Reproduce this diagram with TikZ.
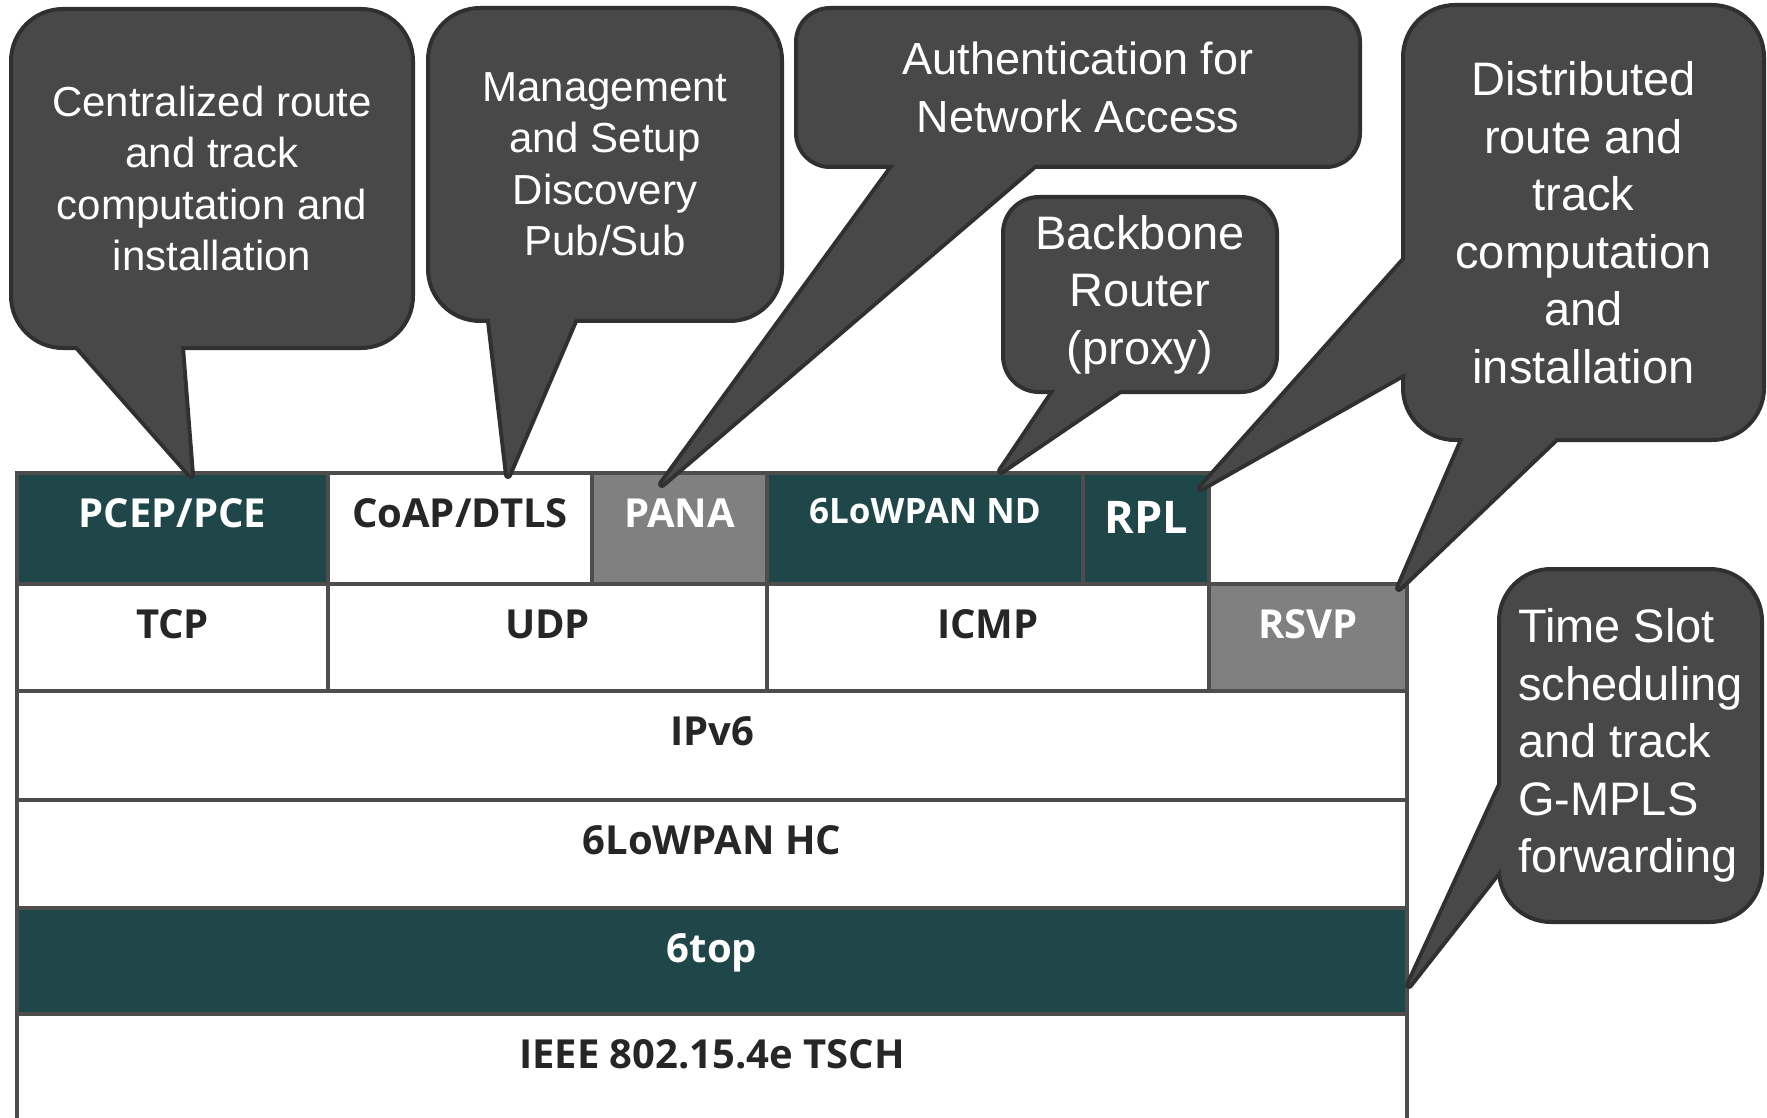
\documentclass[tikz,border=0pt]{standalone}
\usepackage{fontspec}
\newfontfamily\calloutfont{Liberation Sans}
\newfontfamily\stackfont{Open Sans}
\usetikzlibrary{calc}

\definecolor{stackteal}{HTML}{1F4648}
\definecolor{stackgray}{HTML}{808080}
\definecolor{stackedge}{HTML}{4D4D4D}
\definecolor{bubblefill}{HTML}{484848}
\definecolor{bubbleedge}{HTML}{303030}
\definecolor{darktext}{HTML}{262626}

\tikzset{
  stackcell/.style={draw=stackedge, line width=2pt, fill=white, inner sep=0pt, outer sep=0pt,
    anchor=north west, text height=27pt, text depth=27pt, text=darktext,
    font=\stackfont\bfseries\fontsize{20}{24}\selectfont},
  tealcell/.style={stackcell, fill=stackteal, text=white},
  graycell/.style={stackcell, fill=stackgray, text=white},
  bubble/.style={fill=bubblefill, draw=bubbleedge, line width=2pt, inner sep=0pt, outer sep=0pt,
    text=white, align=center, rounded corners=26pt},
  smalltext/.style={font=\calloutfont\fontsize{21}{25.75}\selectfont},
  bigtext/.style={font=\calloutfont\fontsize{23.5}{28.75}\selectfont},
  tipedge/.style={fill=bubblefill, draw=bubbleedge, line width=4pt, line join=round},
  tipfill/.style={fill=bubblefill},
}

\begin{document}
\begin{tikzpicture}[x=0.5pt, y=-0.5pt]
  \useasboundingbox (0,0) rectangle (1767,1118);

  % protocol stack
  \node[tealcell, minimum width=155.5pt, text depth=28.5pt] (pcep) at (17,473) {PCEP/PCE};
  \node[stackcell, minimum width=132pt, text depth=28.5pt] (coap) at (328,473) {CoAP/DTLS};
  \node[tealcell, minimum width=158pt, text height=25pt, text depth=30.5pt,
    font=\stackfont\bfseries\fontsize{17.5}{21}\selectfont] (nd) at (767,473) {6LoWPAN ND};
  \node[tealcell, minimum width=63pt, text height=30pt, text depth=25.5pt,
    font=\stackfont\bfseries\fontsize{22.5}{27}\selectfont] (rpl) at (1083,473) {RPL};
  \node[graycell, minimum width=87.5pt, text depth=28.5pt] (pana) at (592,473) {PANA};

  \node[stackcell, minimum width=155.5pt, text depth=26.5pt] (tcp) at (17,584) {TCP};
  \node[stackcell, minimum width=219.5pt, text depth=26.5pt] (udp) at (328,584) {UDP};
  \node[stackcell, minimum width=221pt, text depth=26.5pt] (icmp) at (767,584) {ICMP};
  \node[graycell, minimum width=99pt, text depth=26.5pt] (rsvp) at (1209,584) {RSVP};

  \node[stackcell, minimum width=695pt, text depth=27.5pt] (ipv6) at (17,691) {IPv6};
  \node[stackcell, minimum width=695pt] (hc) at (17,800) {6LoWPAN HC};
  \node[tealcell, minimum width=695pt, text depth=26pt] (sixtop) at (17,908) {6top};
  \node[stackcell, minimum width=695pt, text depth=30pt] (tsch) at (17,1014) {IEEE 802.15.4e TSCH};

  % pointer ends
  \coordinate (c1a) at (79,348);   \coordinate (c1b) at (181,348);
  \coordinate (c1t) at ($(pcep.north west)+(174,2)$);
  \coordinate (c2a) at (490,321);  \coordinate (c2b) at (574,321);
  \coordinate (c2t) at ($(coap.north west)+(180,2)$);
  \coordinate (c3a) at (893,167);  \coordinate (c3b) at (1032,167);
  \coordinate (c3t) at ($(pana.north west)+(70,11)$);
  \coordinate (c4a) at (1054,392); \coordinate (c4b) at (1117,392);
  \coordinate (c4t) at ($(nd.north west)+(234,-2)$);
  \coordinate (c5a) at (1403,262); \coordinate (c5b) at (1403,374);
  \coordinate (c5t) at ($(rpl.north east)+(-8,15)$);
  \coordinate (c6a) at (1463,440); \coordinate (c6b) at (1554,440);
  \coordinate (c6t) at ($(rsvp.north east)+(-8,4)$);
  \coordinate (c7a) at (1501,785); \coordinate (c7b) at (1501,868);
  \coordinate (c7t) at ($(sixtop.north east)+(2,77)$);

  \foreach \a/\t/\b in {c1a/c1t/c1b, c2a/c2t/c2b, c3a/c3t/c3b, c4a/c4t/c4b, c5a/c5t/c5b, c6a/c6t/c6b, c7a/c7t/c7b}
    \filldraw[tipedge] ($(\a)!-6pt!(\t)$) -- (\t) -- ($(\b)!-6pt!(\t)$) -- cycle;

  % callouts
  \node[bubble, smalltext, minimum width=201pt, minimum height=169.5pt] (central) at (212,178.5)
    {Centralized route\\and track\\computation and\\installation};
  \node[bubble, smalltext, minimum width=177pt, minimum height=156.5pt] (manage) at (605,164.5)
    {Management\\and Setup\\Discovery\\Pub/Sub};
  \node[bubble, font=\calloutfont\fontsize{22.5}{28.75}\selectfont, rounded corners=17pt,
    minimum width=282pt, minimum height=79.5pt] (auth) at (1078,87.5)
    {Authentication for\\Network Access};
  \node[bubble, bigtext, rounded corners=18pt, minimum width=137pt, minimum height=97.5pt] (backbone) at (1140,294.5)
    {Backbone\\Router\\(proxy)};
  \node[bubble, bigtext, minimum width=180.5pt, minimum height=217.5pt] (distrib) at (1583.5,222.5)
    {Distributed\\route and\\track\\computation\\and\\installation};
  \node[bubble, bigtext, align=left, minimum width=131.5pt, minimum height=176.5pt] (timeslot) at (1630.5,745.5)
    {Time Slot\\scheduling\\and track\\G-MPLS\\forwarding};

  \foreach \a/\t/\b in {c1a/c1t/c1b, c2a/c2t/c2b, c3a/c3t/c3b, c4a/c4t/c4b, c5a/c5t/c5b, c6a/c6t/c6b, c7a/c7t/c7b}
    \fill[tipfill] ($(\a)!-6pt!(\t)$) -- (\t) -- ($(\b)!-6pt!(\t)$) -- cycle;
\end{tikzpicture}
\end{document}
